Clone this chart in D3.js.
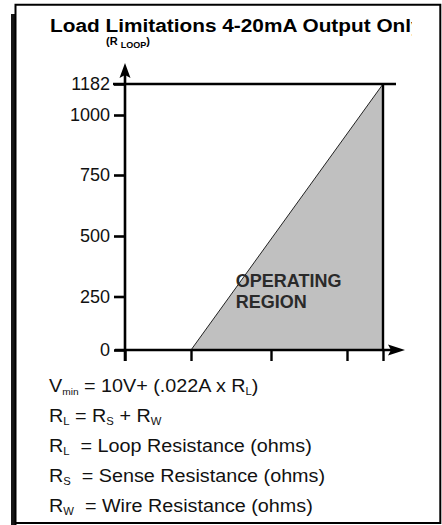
<!DOCTYPE html>
<html>
<head>
<meta charset="utf-8">
<script src="https://cdn.jsdelivr.net/npm/d3@7"></script>
<style>
  html, body { margin: 0; padding: 0; background: #fff; }
  svg { display: block; }
</style>
</head>
<body>
<div id="chart"></div>
<script>
// ── data ──────────────────────────────────────────────────────────────────────
// y = loop resistance (ohms), x = supply voltage (V, unlabelled in the original)
const yTicks = [0, 250, 500, 750, 1000, 1182];
const xTicks = [0, 10, 20, 30, 36];
const rMax = 1182;
// operating region corners: Vmin = 10V + .022A x R
const regionV = [10, 36, 36];
const regionR = [0, 1182, 0];
const titleText = 'Load Limitations 4-20mA Output Only';
const formulaLines = [
  'V_{min} = 10V+ (.022A x R_{L})',
  'R_{L} = R_{S} + R_{W}',
  'R_{L}  = Loop Resistance (ohms)',
  'R_{S}  = Sense Resistance (ohms)',
  'R_{W}  = Wire Resistance (ohms)'
];

const W = 442, H = 525;
const svg = d3.select('#chart').append('svg')
  .attr('width', W).attr('height', H);

// hand-drawn axes in the original are not evenly spaced, so polylinear scales
const x = d3.scaleLinear().domain(xTicks).range([125, 191, 271, 347, 383]);
const y = d3.scaleLinear().domain(yTicks).range([350, 296.5, 236, 175, 115, 84]);

// ── frame
svg.append('rect')
  .attr('x', 11).attr('y', 14).attr('width', 5).attr('height', H - 14)
  .attr('fill', '#161616');
svg.append('path')
  .attr('d', 'M15.5,525 V4.8 H440.3 V523 H15.5')
  .attr('fill', 'none').attr('stroke', '#000').attr('stroke-width', 2);

// ── title (clipped at the right like the original)
svg.append('clipPath').attr('id', 'titleClip')
  .append('rect').attr('x', 0).attr('y', 0).attr('width', 412).attr('height', 40);
svg.append('g')
  .attr('clip-path', 'url(#titleClip)')
  .append('text')
    .attr('transform', 'translate(50,32) scale(1.125,1)')
    .attr('font-family', 'Liberation Sans, Arial, sans-serif')
    .attr('font-weight', 'bold')
    .attr('font-size', 18.5)
    .attr('fill', '#000')
    .text(titleText);

// ── operating region
const regionPts = regionV.map((v, i) => [x(v), y(regionR[i])]);
svg.append('path')
  .attr('d', d3.line()(regionPts) + 'Z')
  .attr('fill', '#c0c0c0');
svg.append('line')
  .attr('x1', regionPts[0][0]).attr('y1', regionPts[0][1])
  .attr('x2', regionPts[1][0]).attr('y2', regionPts[1][1])
  .attr('stroke', '#222').attr('stroke-width', 1);

svg.append('text')
  .attr('font-family', 'Liberation Sans, Arial, sans-serif')
  .attr('font-weight', 'bold')
  .attr('font-size', 18)
  .attr('fill', '#2a2a2a')
  .selectAll('tspan')
  .data(['OPERATING', 'REGION'])
  .enter().append('tspan')
    .attr('x', x(15.6))
    .attr('y', (d, i) => y(290) + i * 21)
    .text(d => d);

// ── Y axis
const yAxisG = svg.append('g')
  .attr('transform', `translate(${x(0)},0)`)
  .call(d3.axisLeft(y).tickValues(yTicks).tickSize(11).tickSizeOuter(0).tickPadding(4)
    .tickFormat(d3.format('d')))
  .call(g => g.select('.domain').remove());
yAxisG.selectAll('.tick line').attr('stroke', '#000').attr('stroke-width', 2.6);
yAxisG.selectAll('.tick text')
  .attr('font-family', 'Liberation Sans, Arial, sans-serif')
  .attr('font-size', 18)
  .attr('fill', '#111');

// limit line at rMax runs across the plot
svg.append('line')
  .attr('x1', x(0) - 12).attr('x2', x(36) + 13)
  .attr('y1', y(rMax)).attr('y2', y(rMax))
  .attr('stroke', '#000').attr('stroke-width', 2.4);

// ── X axis ticks (no labels)
const xAxisG = svg.append('g')
  .attr('transform', `translate(0,${y(0)})`)
  .call(d3.axisBottom(x).tickValues(xTicks).tickSize(11).tickSizeOuter(0).tickFormat(''))
  .call(g => g.select('.domain').remove());
xAxisG.selectAll('.tick line').attr('stroke', '#000').attr('stroke-width', 2.4);

// vertical at the max voltage
svg.append('line')
  .attr('x1', x(36)).attr('x2', x(36))
  .attr('y1', y(rMax)).attr('y2', y(0))
  .attr('stroke', '#000').attr('stroke-width', 2.4);

// axis lines with arrows
svg.append('line')
  .attr('x1', x(0)).attr('x2', x(0))
  .attr('y1', y(0) + 11).attr('y2', 70)
  .attr('stroke', '#000').attr('stroke-width', 2.6);
svg.append('path')
  .attr('d', `M${x(0)},63 L${x(0) + 5.5},78 L${x(0)},75 L${x(0) - 5.5},78 Z`)
  .attr('fill', '#000');

svg.append('line')
  .attr('x1', x(0) - 10).attr('x2', 398)
  .attr('y1', y(0)).attr('y2', y(0))
  .attr('stroke', '#000').attr('stroke-width', 2.6);
svg.append('path')
  .attr('d', `M405,${y(0)} L388,${y(0) - 5.5} L391,${y(0)} L388,${y(0) + 5.5} Z`)
  .attr('fill', '#000');

// y-axis caption (R LOOP)
const cap = svg.append('text')
  .attr('x', 106).attr('y', 45)
  .attr('font-family', 'Liberation Sans, Arial, sans-serif')
  .attr('font-weight', 'bold')
  .attr('font-size', 11)
  .attr('fill', '#000');
cap.append('tspan').text('(R ');
cap.append('tspan').attr('font-size', 9).attr('dy', 3).text('LOOP');
cap.append('tspan').attr('dy', -3).text(')');

// ── formula block
const fBlock = svg.append('g')
  .attr('font-family', 'Liberation Sans, Arial, sans-serif')
  .attr('font-size', 17.5)
  .attr('fill', '#111');

formulaLines.forEach((line, i) => {
  const t = fBlock.append('text')
    .attr('transform', `translate(49,${392 + i * 30}) scale(1.13,1)`);
  const parts = line.split(/(_\{[^}]*\})/).filter(s => s.length);
  let shifted = false;
  parts.forEach(p => {
    const m = p.match(/^_\{([^}]*)\}$/);
    if (m) {
      t.append('tspan').attr('font-size', m[1] === 'min' ? 9 : 10)
        .attr('dy', shifted ? 0 : 3).text(m[1]);
      shifted = true;
    } else {
      t.append('tspan').attr('dy', shifted ? -3 : 0)
        .attr('xml:space', 'preserve').style('white-space', 'pre').text(p);
      shifted = false;
    }
  });
});
</script>
</body>
</html>
